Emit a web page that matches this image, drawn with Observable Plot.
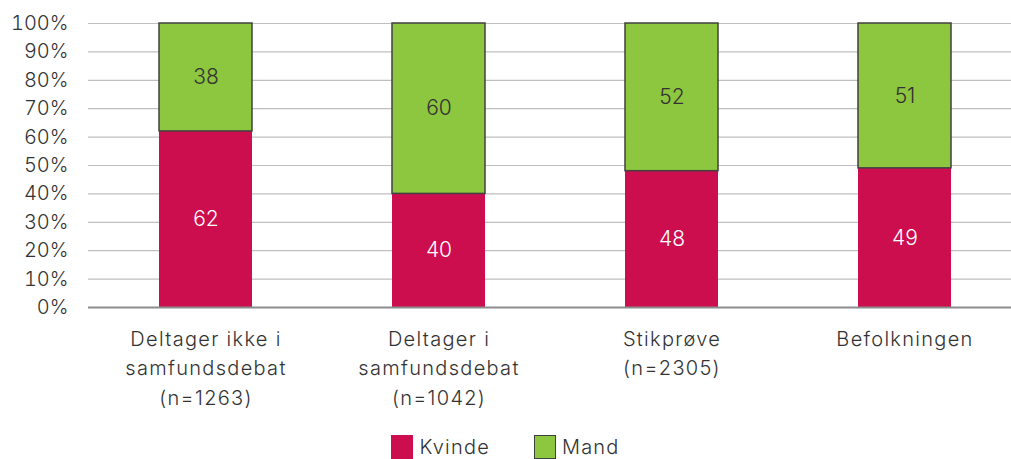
<!DOCTYPE html>
<html>
<head>
<meta charset="utf-8">
<script src="https://cdn.jsdelivr.net/npm/d3@7"></script>
<script src="https://cdn.jsdelivr.net/npm/@observablehq/plot@0.6"></script>
<style>
  html, body { margin: 0; padding: 0; background: #fff; }
  body { width: 1011px; height: 459px; overflow: hidden; font-family: Inter, "Open Sans", sans-serif; font-weight: 300; color: #333; }
  #legend { display: flex; justify-content: center; align-items: center; height: 30px; margin-top: 6px; font-size: 20px; letter-spacing: 1.2px; }
  .item { display: flex; align-items: center; }
  .sw { width: 22px; height: 24px; margin-right: 6px; box-sizing: border-box; }
  .catlabel text { letter-spacing: 1.3px; }
</style>
</head>
<body>
<div id="chart"></div>
<div id="legend"></div>
<script>
const categories = ["Deltager ikke i\nsamfundsdebat\n(n=1263)", "Deltager i\nsamfundsdebat\n(n=1042)", "Stikprøve\n(n=2305)", "Befolkningen"];
const kvinde = [62, 40, 48, 49];
const mand = [38, 60, 52, 51];
const seriesNames = ["Kvinde", "Mand"];
const colors = ["#CC0E4F", "#8DC63F"];
const yTicks = [0, 10, 20, 30, 40, 50, 60, 70, 80, 90, 100];

const rows = [];
categories.forEach((c, i) => {
  rows.push({cat: c, series: "Kvinde", value: kvinde[i], y1: 0, y2: kvinde[i]});
  rows.push({cat: c, series: "Mand", value: mand[i], y1: kvinde[i], y2: kvinde[i] + mand[i]});
});

const font = "Inter, 'Open Sans', sans-serif";
const chart = Plot.plot({
  width: 1011,
  height: 426,
  marginLeft: 88,
  marginRight: 0,
  marginTop: 23,
  marginBottom: 119,
  style: {fontFamily: font, fontSize: "20px", color: "#333", fontWeight: 300, overflow: "visible"},
  x: {domain: categories, range: [87.6, 1022.9], paddingInner: 0.602, paddingOuter: 0.301, axis: null},
  y: {domain: [0, 100], axis: null},
  color: {domain: seriesNames, range: colors},
  marks: [
    Plot.gridY(yTicks.slice(1), {stroke: "#bfbfbf", strokeOpacity: 1, strokeWidth: 1.2}),
    Plot.axisY(yTicks, {tickSize: 0, tickPadding: 20, tickFormat: d => d + "%", fontSize: 20, fill: "#333", label: null}),
    Plot.barY(rows, {x: "cat", y1: "y1", y2: "y2", fill: "series",
      stroke: d => d.series === "Mand" ? "#404040" : "none", strokeWidth: 1.5}),
    Plot.ruleY([0], {stroke: "#8c8c8c", strokeWidth: 2}),
    Plot.text(rows, {x: "cat", y: d => (d.y1 + d.y2) / 2, text: d => String(d.value),
      fill: d => d.series === "Kvinde" ? "#ffffff" : "#333333", fontSize: 21}),
    Plot.text(categories, {x: d => d, y: 0, text: d => d, dy: 17, lineAnchor: "top", lineHeight: 1.49,
      fontSize: 20, fill: "#333", className: "catlabel"})
  ]
});
document.getElementById("chart").appendChild(chart);

const legend = document.getElementById("legend");
seriesNames.forEach((name, i) => {
  const item = document.createElement("div");
  item.className = "item";
  if (i > 0) item.style.marginLeft = "44px";
  const sw = document.createElement("div");
  sw.className = "sw";
  sw.style.background = colors[i];
  if (name === "Mand") sw.style.border = "1.5px solid #404040";
  const label = document.createElement("span");
  label.textContent = name;
  item.appendChild(sw);
  item.appendChild(label);
  legend.appendChild(item);
});
</script>
</body>
</html>
